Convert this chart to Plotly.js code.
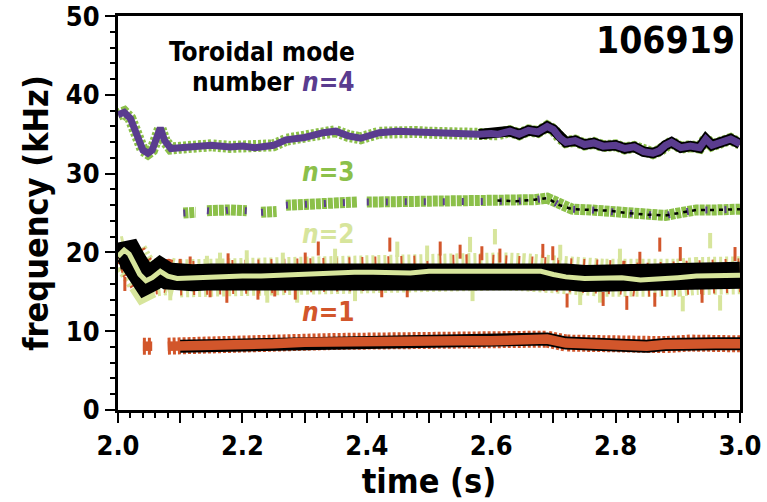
<!DOCTYPE html>
<html>
<head>
<meta charset="utf-8">
<script src="https://cdn.plot.ly/plotly-3.0.1.min.js"></script>
<style>html,body{margin:0;padding:0;background:#fff;}#chart{width:767px;height:502px;}</style>
</head>
<body>
<div id="chart"></div>
<script>
// ---- data (time in s, frequency in kHz) ----
const t4 = [2.000,2.010,2.020,2.030,2.040,2.048,2.055,2.062,2.068,2.075,2.085,2.10,2.12,2.15,2.18,2.20,2.22,2.25,2.27,2.30,2.33,2.35,2.37,2.39,2.42,2.45,2.48,2.50,2.53,2.56,2.58,2.60,2.61,2.63,2.645,2.66,2.675,2.69,2.70,2.71,2.72,2.735,2.75,2.765,2.78,2.80,2.815,2.83,2.845,2.86,2.87,2.88,2.89,2.905,2.92,2.935,2.945,2.955,2.97,2.985,3.00];
const f4 = [37.5,37.8,37.0,35.0,33.0,32.6,33.0,34.5,35.8,34.2,33.2,33.3,33.5,33.6,33.4,33.5,33.3,33.6,34.3,34.6,35.2,35.4,34.8,34.5,35.2,35.4,35.3,35.2,35.2,34.9,35.0,35.1,35.0,35.4,35.0,35.5,35.3,36.0,35.6,34.6,34.0,34.2,33.7,33.9,33.5,33.6,33.2,33.4,32.8,32.6,32.9,33.6,34.0,33.3,33.5,33.3,34.4,33.6,33.9,34.4,33.8];

const t3 = [2.105,2.125,null,2.143,2.160,2.180,2.207,null,2.230,2.255,null,2.270,2.300,2.330,2.360,2.385,null,2.400,2.430,2.460,2.490,2.520,2.550,2.580,2.610,2.640,2.670,2.690,2.710,2.730,2.760,2.790,2.820,2.850,2.880,2.900,2.930,2.960,3.000];
const f3 = [25.0,25.1,null,25.3,25.2,25.4,25.3,null,25.1,25.2,null,26.0,26.1,26.3,26.2,26.4,null,26.4,26.4,26.5,26.5,26.6,26.5,26.5,26.6,26.5,26.7,26.9,26.0,25.5,25.4,25.3,25.0,24.8,24.7,25.0,25.4,25.4,25.5];

const t2 = [2.000,2.010,2.018,2.025,2.035,2.045,2.055,2.068,2.080,2.095,2.12,2.15,2.18,2.20,2.23,2.26,2.29,2.32,2.35,2.38,2.41,2.44,2.47,2.50,2.53,2.56,2.59,2.62,2.65,2.68,2.70,2.72,2.75,2.78,2.81,2.84,2.87,2.90,2.93,2.96,3.00];
const f2 = [19.5,20.3,19.8,18.8,17.2,16.4,16.8,17.6,17.0,16.7,16.8,16.9,16.9,17.0,17.0,17.1,17.2,17.4,17.4,17.5,17.5,17.5,17.4,17.6,17.6,17.6,17.6,17.6,17.5,17.6,17.2,16.9,16.7,16.8,16.8,16.5,16.6,16.8,17.0,17.1,17.1];

const t1 = [2.040,2.055,null,2.080,2.10,2.15,2.20,2.25,2.30,2.35,2.40,2.45,2.50,2.55,2.60,2.65,2.69,2.72,2.75,2.80,2.85,2.88,2.92,2.96,3.00];
const f1 = [8.1,8.1,null,8.1,8.1,8.2,8.3,8.4,8.6,8.7,8.8,8.9,8.9,8.8,8.8,8.9,9.0,8.5,8.4,8.1,8.1,8.3,8.5,8.4,8.4];

// scattered spectral spikes around the n=2 band
const spikeOrangeT = [2.011,2.032,2.100,2.116,2.148,2.175,2.177,2.225,2.252,2.285,2.301,2.322,2.424,2.437,2.465,2.518,2.550,2.585,2.614,2.683,2.699,2.722,2.780,2.818,2.839,2.863,2.871,2.904,2.939,2.992];
const spikeOrangeF = [16.0,18.9,18.3,18.6,15.2,14.5,19.0,14.9,15.3,14.9,19.1,20.5,15.2,21.0,15.2,20.5,20.1,19.9,19.6,20.2,19.9,13.9,14.1,13.6,19.2,14.0,21.0,19.8,14.5,19.8];
const spikeYellowT = [2.040,2.084,2.143,2.164,2.207,2.240,2.265,2.288,2.349,2.381,2.449,2.497,2.566,2.570,2.606,2.711,2.743,2.775,2.807,2.908,2.952,2.968];
const spikeYellowF = [14.9,14.9,18.6,19.0,19.3,14.6,19.0,14.6,19.5,14.8,20.4,19.9,21.0,14.8,22.0,20.0,14.3,14.6,19.5,13.5,21.5,13.6];

const xTickVals = [2.0,2.1,2.2,2.3,2.4,2.5,2.6,2.7,2.8,2.9,3.0];
const xTickText = ['2.0','','2.2','','2.4','','2.6','','2.8','','3.0'];
const yTickVals = [0,10,20,30,40,50];
const yTickText = ['0','10','20','30','40','50'];

const shotNumber = '106919';

// ---- styles ----
const PURPLE = '#5a3c8f', GREEN = '#8cc04a', PALE = '#d7e59c', ORANGE = '#d2562b', BLACK = '#000000';
const FONT = 'DejaVu Sans Condensed, DejaVu Sans, sans-serif';

function subset(t, f, lo, hi) {
  const tt = [], ff = [];
  for (let i = 0; i < t.length; i++) {
    if (t[i] === null) { tt.push(null); ff.push(null); continue; }
    if (t[i] >= lo && t[i] <= hi) { tt.push(t[i]); ff.push(f[i]); }
  }
  return [tt, ff];
}
function line(x, y, color, width, dash) {
  return {x: x, y: y, type: 'scatter', mode: 'lines', hoverinfo: 'skip', connectgaps: false,
          line: {color: color, width: width, dash: dash || 'solid', shape: 'linear'}};
}

const traces = [];
// n=2 : noisy fringe, black tracks, pale centre line
traces.push(line(t2, f2, PALE, 38, '3px,3px'));
traces.push(line(t2, f2, ORANGE, 34, '2px,11px'));
traces.push({x: spikeYellowT, y: spikeYellowF, type: 'scatter', mode: 'markers', hoverinfo: 'skip',
             marker: {symbol: 'line-ns', size: 11, line: {color: PALE, width: 4}}});
traces.push({x: spikeOrangeT, y: spikeOrangeF, type: 'scatter', mode: 'markers', hoverinfo: 'skip',
             marker: {symbol: 'line-ns', size: 10, line: {color: ORANGE, width: 3}}});
traces.push(line(t2, f2, BLACK, 27));
traces.push(line(t2, f2, PALE, 5));

// n=1 : orange band with black outline
traces.push(line(t1, f1, ORANGE, 17, '3px,2px'));
const n1b = subset(t1, f1, 2.09, 3.0);
traces.push(line(n1b[0], n1b[1], BLACK, 13));
traces.push(line(t1, f1, ORANGE, 9.5));

// n=3 : green band with purple dashes
traces.push(line(t3, f3, GREEN, 11, '5px,1px'));
traces.push(line(t3, f3, PURPLE, 7, '2px,17px'));
const n3b = subset(t3, f3, 2.60, 3.0);
traces.push(line(n3b[0], n3b[1], BLACK, 2.5, '4px,5px'));

// n=4 : purple band, green fringe, black outline in second half
traces.push(line(t4, f4, GREEN, 12, '3px,2px'));
const n4b = subset(t4, f4, 2.58, 3.0);
traces.push(line(n4b[0], n4b[1], BLACK, 10.5));
traces.push(line(t4, f4, PURPLE, 7));

const labelFont = (c, s) => ({family: FONT, size: s, color: c, weight: 'bold'});
const layout = {
  width: 767, height: 502,
  margin: {l: 118, r: 27, t: 16, b: 92},
  paper_bgcolor: '#ffffff', plot_bgcolor: '#ffffff',
  showlegend: false,
  font: {family: FONT, color: '#000', weight: 'bold'},
  xaxis: {
    range: [2.0, 3.0], tickvals: xTickVals, ticktext: xTickText,
    ticks: 'outside', ticklen: 10, tickwidth: 2, tickcolor: '#000',
    minor: {dtick: 0.02, tick0: 2.0, ticks: 'outside', ticklen: 5, tickwidth: 2, tickcolor: '#000', showgrid: false},
    showline: true, linewidth: 3, linecolor: '#000', mirror: true,
    showgrid: false, zeroline: false, ticklabeloverflow: 'allow',
    tickfont: {family: FONT, size: 27, color: '#000', weight: 'bold'},
    title: {text: 'time (s)', font: {family: FONT, size: 34, color: '#000', weight: 'bold'}, standoff: 6}
  },
  yaxis: {
    range: [0, 50.02], tickvals: yTickVals, ticktext: yTickText,
    ticks: 'outside', ticklen: 10, tickwidth: 2, tickcolor: '#000',
    minor: {dtick: 2, tick0: 0, ticks: 'outside', ticklen: 5, tickwidth: 2, tickcolor: '#000', showgrid: false},
    showline: true, linewidth: 3, linecolor: '#000', mirror: true,
    showgrid: false, zeroline: false, ticklabeloverflow: 'allow',
    tickfont: {family: FONT, size: 27, color: '#000', weight: 'bold'},
    title: {text: 'frequency (kHz)', font: {family: FONT, size: 34, color: '#000', weight: 'bold'}, standoff: 7}
  },
  annotations: [
    {xref: 'paper', yref: 'paper', x: 0.995, y: 0.939, xanchor: 'right', yanchor: 'middle', showarrow: false,
     text: shotNumber, font: labelFont('#000', 37)},
    {xref: 'x', yref: 'y', x: 2.385, y: 45.4, xanchor: 'right', yanchor: 'middle', showarrow: false,
     text: 'Toroidal mode', font: labelFont('#000', 26)},
    {xref: 'x', yref: 'y', x: 2.385, y: 41.6, xanchor: 'right', yanchor: 'middle', showarrow: false,
     text: 'number <span style="color:' + PURPLE + '"><i>n</i>=4</span>', font: labelFont('#000', 26)},
    {xref: 'x', yref: 'y', x: 2.385, y: 30.2, xanchor: 'right', yanchor: 'middle', showarrow: false,
     text: '<i>n</i>=3', font: labelFont(GREEN, 26)},
    {xref: 'x', yref: 'y', x: 2.385, y: 22.4, xanchor: 'right', yanchor: 'middle', showarrow: false,
     text: '<i>n</i>=2', font: labelFont(PALE, 26)},
    {xref: 'x', yref: 'y', x: 2.385, y: 12.4, xanchor: 'right', yanchor: 'middle', showarrow: false,
     text: '<i>n</i>=1', font: labelFont(ORANGE, 26)}
  ]
};

Plotly.newPlot('chart', traces, layout, {staticPlot: true, displayModeBar: false});
</script>
</body>
</html>
